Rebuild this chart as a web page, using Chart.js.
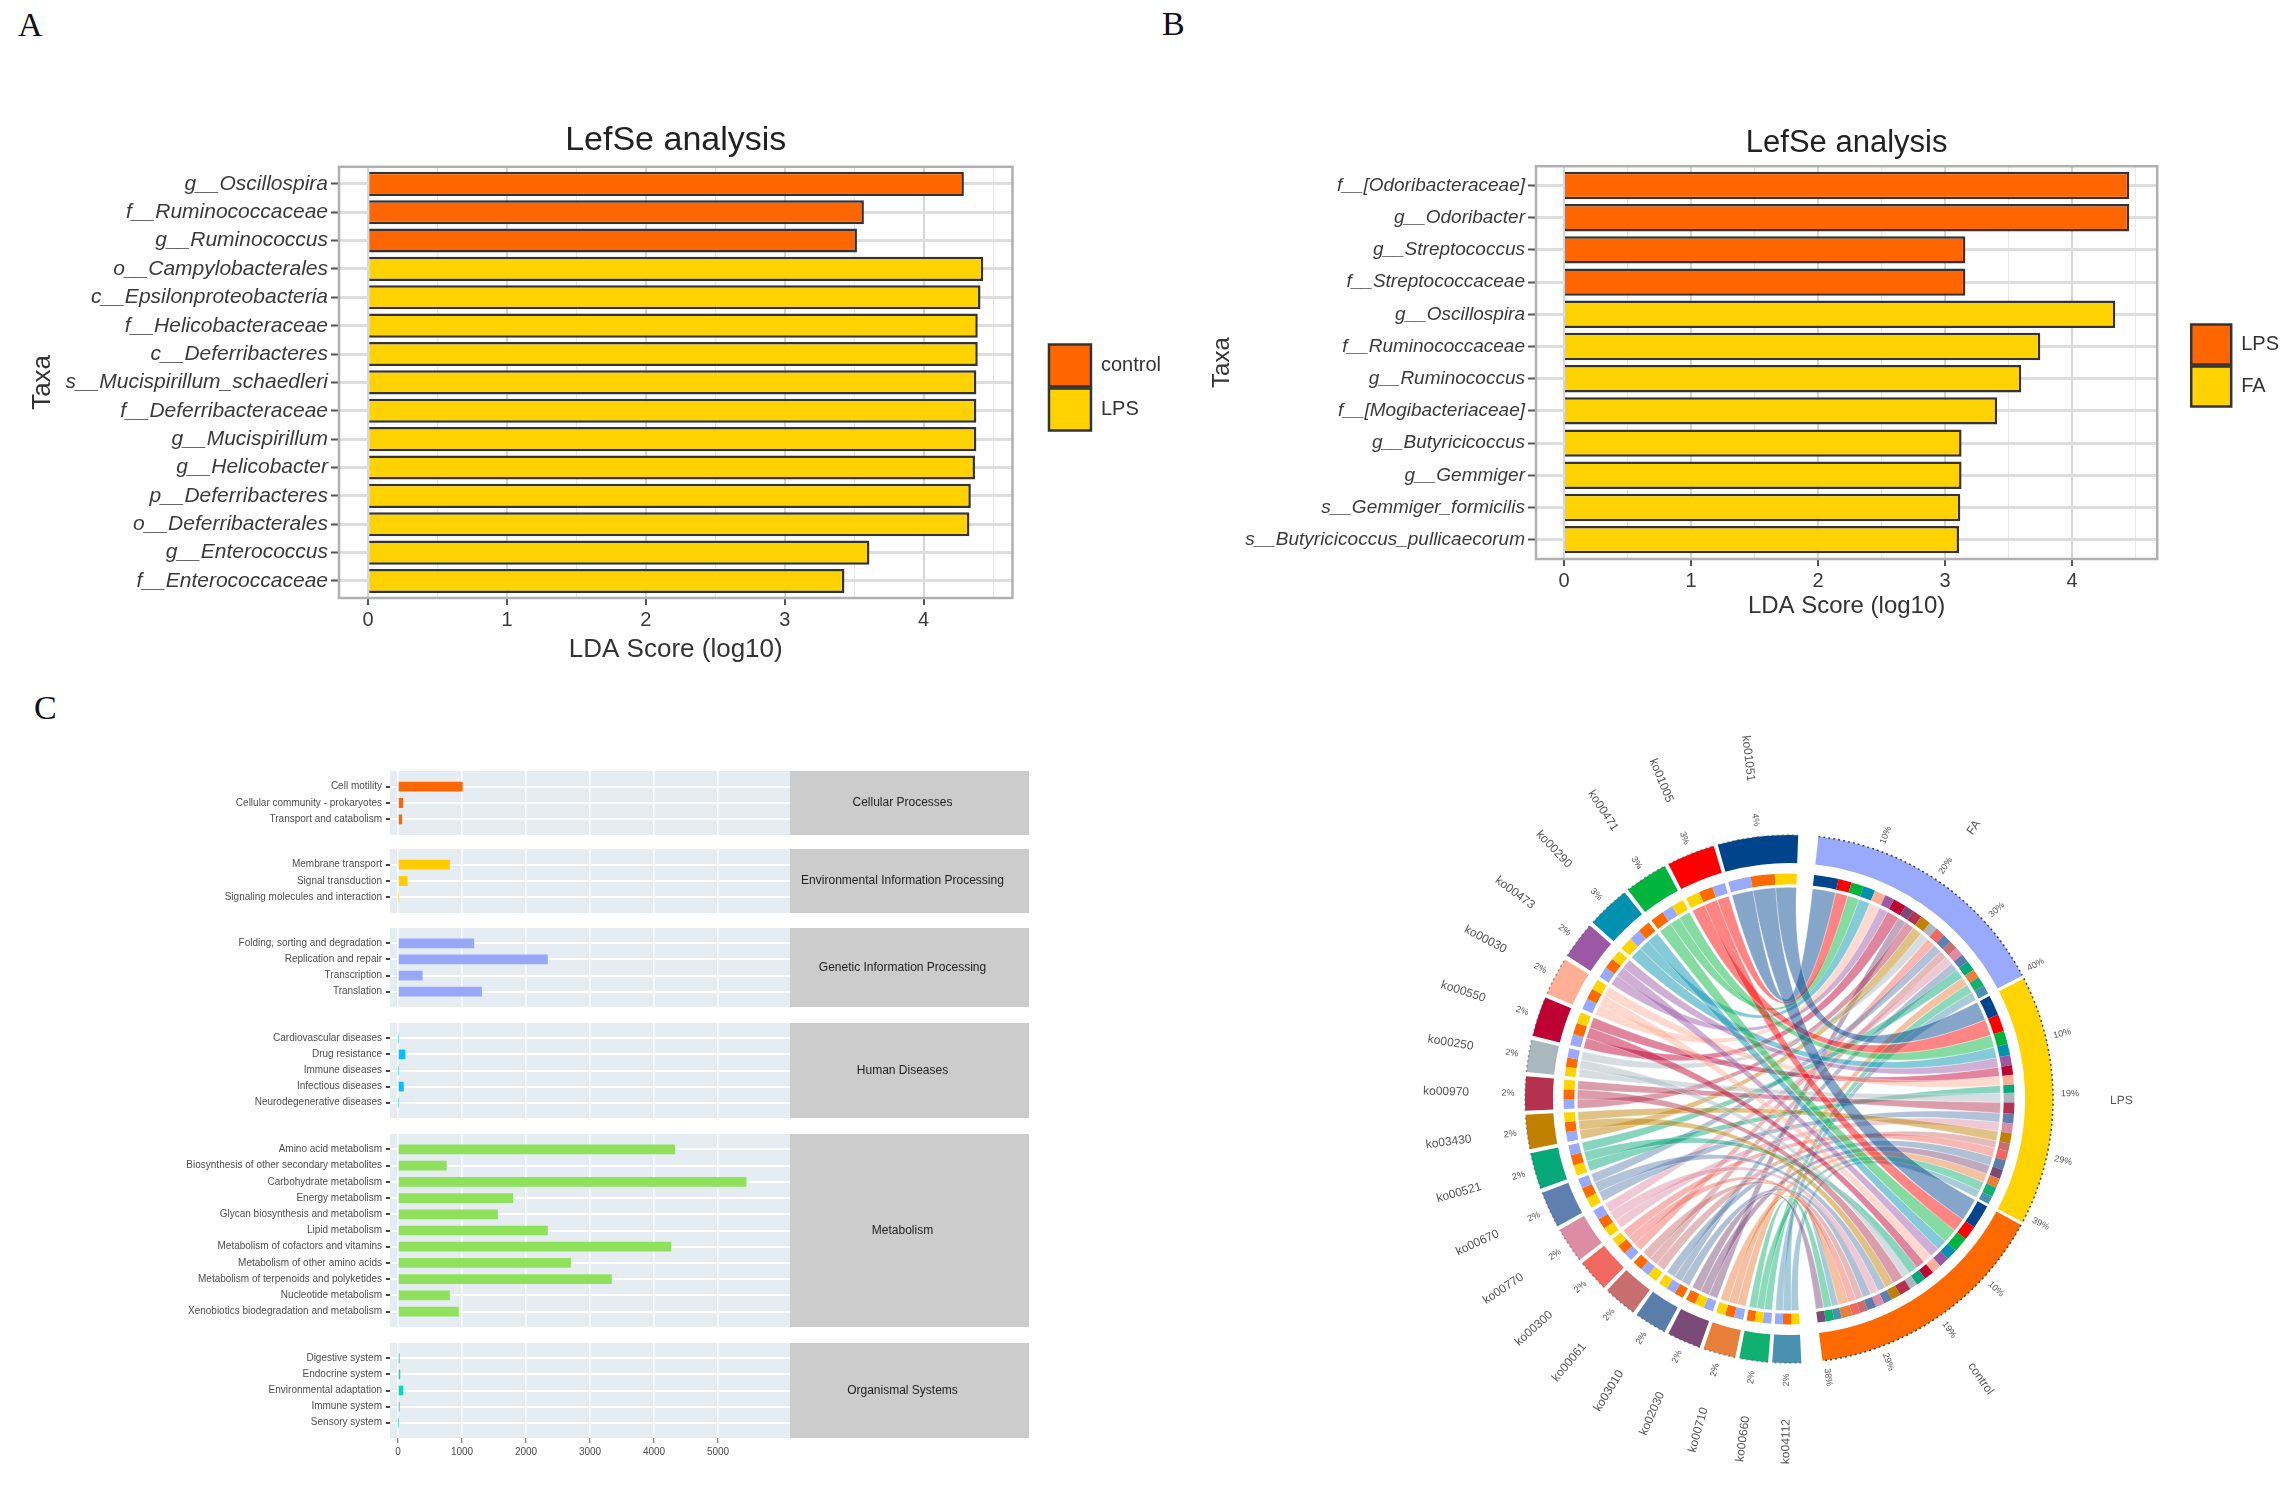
<!DOCTYPE html>
<html lang="en">
<head>
  <meta charset="UTF-8" />
  <title>LefSe analysis and KEGG pathways</title>
  <script src="https://cdn.jsdelivr.net/npm/chart.js"></script>
  <style>
    body { margin: 0; background: #fff; width: 2292px; height: 1490px; overflow: hidden; position: relative; }
    canvas { position: absolute; }
    .letter { position: absolute; font-family: "Liberation Serif", serif; font-size: 34px; color: #111; line-height: 1; }
  </style>
</head>
<body>
  <div class="letter" style="left:18px;top:8px">A</div>
  <div class="letter" style="left:1162px;top:7px">B</div>
  <div class="letter" style="left:34px;top:691px">C</div>

  <canvas id="lefseA" width="1144" height="555" style="left:27px;top:110px"></canvas>
  <canvas id="lefseB" width="1081" height="511" style="left:1208px;top:110px"></canvas>

  <canvas id="facet0" width="879" height="64" style="left:150px;top:771px"></canvas>
  <canvas id="facet1" width="879" height="64" style="left:150px;top:849px"></canvas>
  <canvas id="facet2" width="879" height="79" style="left:150px;top:928px"></canvas>
  <canvas id="facet3" width="879" height="95" style="left:150px;top:1023px"></canvas>
  <canvas id="facet4" width="879" height="193" style="left:150px;top:1134px"></canvas>
  <canvas id="facet5" width="879" height="121" style="left:150px;top:1343px"></canvas>

  <canvas id="chord" width="760" height="760" style="left:1409px;top:719px"></canvas>

  <script>
    // Panel A
    const taxaA = ['g__Oscillospira', 'f__Ruminococcaceae', 'g__Ruminococcus', 'o__Campylobacterales', 'c__Epsilonproteobacteria', 'f__Helicobacteraceae', 'c__Deferribacteres', 's__Mucispirillum_schaedleri', 'f__Deferribacteraceae', 'g__Mucispirillum', 'g__Helicobacter', 'p__Deferribacteres', 'o__Deferribacterales', 'g__Enterococcus', 'f__Enterococcaceae'];
    const controlScoresA = [4.29, 3.57, 3.52];
    const lpsScoresA = [4.43, 4.41, 4.39, 4.39, 4.38, 4.38, 4.38, 4.37, 4.34, 4.33, 3.61, 3.43];

    // Panel B
    const taxaB = ['f__[Odoribacteraceae]', 'g__Odoribacter', 'g__Streptococcus', 'f__Streptococcaceae', 'g__Oscillospira', 'f__Ruminococcaceae', 'g__Ruminococcus', 'f__[Mogibacteriaceae]', 'g__Butyricicoccus', 'g__Gemmiger', 's__Gemmiger_formicilis', 's__Butyricicoccus_pullicaecorum'];
    const lpsScoresB = [4.45, 4.45, 3.16, 3.16];
    const faScoresB = [4.34, 3.75, 3.60, 3.41, 3.13, 3.13, 3.12, 3.11];

    // Panel C, one pair of arrays per facet
    const countTicks = [0, 1000, 2000, 3000, 4000, 5000];
    const cellularTerms = ['Cell motility', 'Cellular community - prokaryotes', 'Transport and catabolism'];
    const cellularCounts = [1010, 80, 65];
    const environmentalTerms = ['Membrane transport', 'Signal transduction', 'Signaling molecules and interaction'];
    const environmentalCounts = [810, 150, 5];
    const geneticTerms = ['Folding, sorting and degradation', 'Replication and repair', 'Transcription', 'Translation'];
    const geneticCounts = [1190, 2340, 385, 1310];
    const diseaseTerms = ['Cardiovascular diseases', 'Drug resistance', 'Immune diseases', 'Infectious diseases', 'Neurodegenerative diseases'];
    const diseaseCounts = [5, 115, 5, 90, 5];
    const metabolismTerms = ['Amino acid metabolism', 'Biosynthesis of other secondary metabolites', 'Carbohydrate metabolism', 'Energy metabolism', 'Glycan biosynthesis and metabolism', 'Lipid metabolism', 'Metabolism of cofactors and vitamins', 'Metabolism of other amino acids', 'Metabolism of terpenoids and polyketides', 'Nucleotide metabolism', 'Xenobiotics biodegradation and metabolism'];
    const metabolismCounts = [4330, 760, 5445, 1800, 1560, 2340, 4270, 2700, 3340, 810, 950];
    const organismalTerms = ['Digestive system', 'Endocrine system', 'Environmental adaptation', 'Immune system', 'Sensory system'];
    const organismalCounts = [25, 35, 80, 25, 3];

    // Chord diagram: sectors listed counter-clockwise from the top
    const koNames = ['ko01051', 'ko01005', 'ko00471', 'ko00290', 'ko00473', 'ko00030', 'ko00550', 'ko00250', 'ko00970', 'ko03430', 'ko00521', 'ko00670', 'ko00770', 'ko00300', 'ko00061', 'ko03010', 'ko02030', 'ko00710', 'ko00660', 'ko04112'];
    const koPercents = ['4%', '3%', '3%', '3%', '2%', '2%', '2%', '2%', '2%', '2%', '2%', '2%', '2%', '2%', '2%', '2%', '2%', '2%', '2%', '2%'];
    const koColors = ['#00448c', '#ff0000', '#00b43c', '#0091b0', '#9b59a5', '#ffaf96', '#be0032', '#a9b8be', '#b43250', '#c08000', '#05a878', '#5f7fb0', '#dc8ca5', '#f0685f', '#c86e6e', '#5a7daa', '#7b4a78', '#e8803c', '#0fb070', '#4a90b0'];
    // ko-side widths of each link, % of the circle
    const koFa = [1.62, .92, .80, .82, .78, .80, .80, .66, .70, .70, .72, .70, .72, .65, .66, .65, .68, .66, .60, .57];
    const koLps = [1.56, 1.02, .87, .93, .74, .75, .80, .65, .68, .68, .76, .76, .70, .64, .70, .66, .68, .66, .58, .58];
    const koControl = [1.71, 1.00, .97, .89, .76, .78, .82, .66, .70, .70, .74, .76, .75, .68, .70, .66, .70, .65, .57, .60];
    // clockwise order of the three small cells in each ko sector (F = FA, L = LPS, C = control)
    const koCellOrder = ['FCL', 'LCF', 'CFL', 'LFC', 'FCL', 'FCL', 'FCL', 'LCF', 'FCL', 'FCL', 'LCF', 'LCF', 'LCF', 'FCL', 'LFC', 'CFL', 'FLC', 'FCL', 'FLC', 'LCF'];

    const groupNames = ['FA', 'LPS', 'control'];
    const groupColors = ['#99a9fb', '#ffd400', '#ff6a00'];
    const groupFullPercent = [40.5, 40, 38.5];
    const faTicks = [10, 20, 30, 40];
    const lpsTicks = [10, 19, 29, 39];
    const controlTicks = [10, 19, 29, 38];
    // group-side cells, clockwise: which ko each one belongs to and how wide it is
    const faOrder = [0, 1, 2, 3, 5, 4, 6, 16, 8, 9, 7, 13, 11, 14, 12, 15, 10, 17, 18, 19];
    const faFlows = [1.75, .94, .89, .86, .81, .67, .94, .64, .69, .75, .61, .69, .67, .61, .61, .61, .72, .64, .69, .64];
    const lpsOrder = [0, 1, 2, 3, 4, 6, 5, 10, 7, 8, 11, 12, 9, 14, 13, 15, 16, 17, 18, 19];
    const lpsFlows = [1.44, 1.22, .94, .81, .72, .69, .69, .58, .69, .81, .69, .69, .72, .56, .67, .69, .67, .67, .69, .58];
    const controlOrder = [0, 1, 2, 3, 4, 5, 6, 10, 7, 8, 9, 11, 12, 15, 14, 13, 17, 19, 18, 16];
    const controlFlows = [1.72, 1.03, 1.08, .81, .72, .69, .69, .72, .56, .83, .67, .61, .61, .64, .56, .58, .78, .53, .61, .58];

    Chart.defaults.font.family = '"Liberation Sans", Arial, sans-serif';
    Chart.defaults.animation = false;
    Chart.defaults.responsive = false;

    const panelBorder = {
      id: 'panelBorder',
      afterDraw(chart) {
        const { ctx, chartArea: a } = chart;
        ctx.save();
        ctx.strokeStyle = '#b0b0b0';
        ctx.lineWidth = 2.5;
        ctx.strokeRect(a.left, a.top, a.width, a.height);
        ctx.restore();
      }
    };

    function lefseChart(id, o) {
      const first = o.firstScores, second = o.secondScores;
      return new Chart(document.getElementById(id), {
        type: 'bar',
        data: {
          datasets: [
            { label: o.firstName, data: first.map((v, i) => ({ x: v, y: i })), backgroundColor: '#ff6600' },
            { label: o.secondName, data: second.map((v, i) => ({ x: v, y: i + first.length })), backgroundColor: '#ffd200' }
          ].map(d => Object.assign(d, { borderColor: '#333', borderWidth: 2.5, barPercentage: 1, categoryPercentage: 0.85 }))
        },
        options: {
          indexAxis: 'y',
          layout: { padding: 0 },
          scales: {
            x: {
              stacked: true, min: o.xMin, max: o.xMax,
              grid: {
                color: c => c.tick.value % 1 ? '#e8e8e8' : '#d6d6d6',
                lineWidth: c => c.tick.value % 1 ? 1 : 2,
                tickColor: c => c.tick.value % 1 ? 'rgba(0,0,0,0)' : '#555',
                tickLength: 7, tickWidth: 2
              },
              border: { display: false },
              ticks: {
                stepSize: 0.5, includeBounds: false, autoSkip: false, maxRotation: 0, padding: 3,
                color: '#3a3a3a', font: { size: 20 },
                callback: v => v % 1 ? '' : String(v)
              },
              title: { display: true, text: 'LDA Score (log10)', color: '#333', font: { size: o.axisTitleSize }, padding: 0 },
              afterFit: s => { s.height = o.axisHeight; }
            },
            y: {
              type: 'linear', offset: false,
              stacked: true, reverse: true, min: -0.6, max: o.taxa.length - 0.4,
              grid: { offset: false, color: '#dedede', lineWidth: 3, tickColor: '#555', tickLength: 8, tickWidth: 2 },
              border: { display: false },
              ticks: {
                stepSize: 1, includeBounds: false, autoSkip: false, maxRotation: 0, padding: 3,
                color: '#3a3a3a', font: { size: o.taxaSize, style: 'italic' },
                callback: v => o.taxa[v]
              },
              title: { display: true, text: 'Taxa', color: '#333', font: { size: o.axisTitleSize }, padding: 0 },
              afterFit: s => { s.width = o.axisWidth; s.paddingTop = 0; s.paddingBottom = 0; }
            },
            // empty axis, only keeps the legend away from the panel
            gap: {
              type: 'linear', position: 'right', display: true,
              grid: { display: false }, border: { display: false }, ticks: { display: false },
              afterFit: s => { s.width = o.legendGap; }
            }
          },
          plugins: {
            title: { display: true, text: 'LefSe analysis', color: '#222', fullSize: false, font: { size: o.titleSize, weight: 'normal' }, padding: o.titlePadding },
            legend: {
              position: 'right',
              labels: { boxWidth: o.legendBox, boxHeight: o.legendBox, padding: 2, color: '#333', font: { size: 20 } }
            },
            tooltip: { enabled: false }
          }
        },
        plugins: [panelBorder]
      });
    }

    lefseChart('lefseA', {
      taxa: taxaA, firstName: 'control', secondName: 'LPS', firstScores: controlScoresA, secondScores: lpsScoresA,
      xMin: -0.21, xMax: 4.64, axisWidth: 312, axisHeight: 67, legendGap: 34.5, legendBox: 42,
      taxaSize: 21, titleSize: 34, axisTitleSize: 26, titlePadding: { top: 10, bottom: 6 }
    });
    lefseChart('lefseB', {
      taxa: taxaB, firstName: 'LPS', secondName: 'FA', firstScores: lpsScoresB, secondScores: faScoresB,
      xMin: -0.22, xMax: 4.67, axisWidth: 328, axisHeight: 62, legendGap: 32, legendBox: 40,
      taxaSize: 19, titleSize: 31, axisTitleSize: 24, titlePadding: { top: 15, bottom: 4 }
    });

    const facetStrip = {
      id: 'facetStrip',
      beforeDraw(chart, args, opts) {
        const { ctx, chartArea: a, width } = chart;
        ctx.save();
        ctx.fillStyle = '#e6edf2';
        ctx.fillRect(a.left, a.top, a.width, a.height);
        ctx.fillStyle = '#cccccc';
        ctx.fillRect(a.right, a.top, width - a.right, a.height);
        ctx.fillStyle = '#222';
        ctx.font = '12px "Liberation Sans"';
        ctx.textAlign = 'center';
        ctx.textBaseline = 'middle';
        ctx.fillText(opts.text, (a.right + width) / 2 - 7, (a.top + a.bottom) / 2);
        ctx.restore();
      }
    };

    function facetChart(id, strip, terms, counts, color, showAxis) {
      return new Chart(document.getElementById(id), {
        type: 'bar',
        data: {
          datasets: [{
            data: counts.map((v, i) => ({ x: v, y: i })),
            backgroundColor: color, borderWidth: 0, barPercentage: 0.6, categoryPercentage: 1
          }]
        },
        options: {
          indexAxis: 'y',
          layout: { padding: { right: 239 } },
          scales: {
            x: {
              min: -125, max: 6125,
              afterBuildTicks: s => { s.ticks = countTicks.map(value => ({ value })); },
              grid: { color: '#fff', lineWidth: 1.5, drawTicks: showAxis, tickColor: '#555', tickLength: 5, tickWidth: 1 },
              border: { display: false },
              ticks: { display: showAxis, autoSkip: false, maxRotation: 0, padding: 3, color: '#4d4d4d', font: { size: 10 }, callback: v => String(v) },
              afterFit: s => { s.height = showAxis ? 26 : 0; s.paddingLeft = 0; s.paddingRight = 0; }
            },
            y: {
              type: 'linear', offset: false,
              reverse: true, min: -0.95, max: terms.length - 0.05,
              grid: { offset: false, color: '#fff', lineWidth: 2, tickColor: '#444', tickLength: 4, tickWidth: 2 },
              border: { display: false },
              ticks: {
                stepSize: 1, includeBounds: false, autoSkip: false, maxRotation: 0, padding: 4,
                color: '#4d4d4d', font: { size: 10 }, callback: v => terms[v]
              },
              afterFit: s => { s.width = 240; s.paddingTop = 0; s.paddingBottom = 0; }
            }
          },
          plugins: { legend: { display: false }, tooltip: { enabled: false }, facetStrip: { text: strip } }
        },
        plugins: [facetStrip]
      });
    }

    facetChart('facet0', 'Cellular Processes', cellularTerms, cellularCounts, '#ff6600', false);
    facetChart('facet1', 'Environmental Information Processing', environmentalTerms, environmentalCounts, '#ffcc00', false);
    facetChart('facet2', 'Genetic Information Processing', geneticTerms, geneticCounts, '#97a8fa', false);
    facetChart('facet3', 'Human Diseases', diseaseTerms, diseaseCounts, '#00bfff', false);
    facetChart('facet4', 'Metabolism', metabolismTerms, metabolismCounts, '#8fe05b', false);
    facetChart('facet5', 'Organismal Systems', organismalTerms, organismalCounts, '#00d8c0', true);

    // Build the two rings of the chord from the arrays. Gaps are empty slices.
    const GAP_KO = 0.25, GAP_GROUP = 0.2, GAP_BOTTOM = 1.28, GAP_TOP = 1.22;
    const NONE = 'rgba(0,0,0,0)';
    const outerData = [], outerColors = [], innerData = [], innerColors = [];
    const groupOuter = [], koOuter = [];
    const groupCell = [{}, {}, {}], koCell = koNames.map(() => ({}));
    const pushGap = v => {
      outerData.push(v); outerColors.push(NONE);
      innerData.push(v); innerColors.push(NONE);
    };
    [[faOrder, faFlows], [lpsOrder, lpsFlows], [controlOrder, controlFlows]].forEach(([order, flows], g) => {
      groupOuter[g] = outerData.length;
      outerData.push(flows.reduce((a, b) => a + b, 0));
      outerColors.push(groupColors[g]);
      flows.forEach((f, i) => {
        groupCell[g][order[i]] = innerData.length;
        innerData.push(f);
        innerColors.push(koColors[order[i]]);
      });
      pushGap(g < 2 ? GAP_GROUP : GAP_BOTTOM);
    });
    for (let k = koNames.length - 1; k >= 0; k--) {
      const parts = { F: [koFa[k], 0], L: [koLps[k], 1], C: [koControl[k], 2] };
      koOuter[k] = outerData.length;
      outerData.push(koFa[k] + koLps[k] + koControl[k]);
      outerColors.push(koColors[k]);
      for (const letter of koCellOrder[k]) {
        koCell[k][parts[letter][1]] = innerData.length;
        innerData.push(parts[letter][0]);
        innerColors.push(groupColors[parts[letter][1]]);
      }
      pushGap(k > 0 ? GAP_KO : GAP_TOP);
    }

    function hexAlpha(hex, a) {
      const n = parseInt(hex.slice(1), 16);
      return `rgba(${n >> 16},${(n >> 8) & 255},${n & 255},${a})`;
    }

    const chordDecor = {
      id: 'chordDecor',
      afterDatasetsDraw(chart) {
        const { ctx } = chart;
        const outer = chart.getDatasetMeta(0).data;
        const inner = chart.getDatasetMeta(2).data;
        const cx = outer[0].x, cy = outer[0].y;
        const R = outer[0].outerRadius;
        const rib = inner[0].innerRadius - 3;
        const pt = (ang, r) => [cx + r * Math.cos(ang), cy + r * Math.sin(ang)];

        // ribbons
        ctx.save();
        for (let k = koNames.length - 1; k >= 0; k--) {
          for (let g = 0; g < 3; g++) {
            const a = inner[koCell[k][g]], b = inner[groupCell[g][k]];
            const bend = rib * 0.3;
            ctx.beginPath();
            ctx.arc(cx, cy, rib, a.startAngle, a.endAngle);
            ctx.bezierCurveTo(...pt(a.endAngle, bend), ...pt(b.startAngle, bend), ...pt(b.startAngle, rib));
            ctx.arc(cx, cy, rib, b.startAngle, b.endAngle);
            ctx.bezierCurveTo(...pt(b.endAngle, bend), ...pt(a.startAngle, bend), ...pt(a.startAngle, rib));
            ctx.closePath();
            ctx.fillStyle = hexAlpha(koColors[k], 0.48);
            ctx.fill();
            ctx.strokeStyle = 'rgba(255,255,255,0.55)';
            ctx.lineWidth = 0.6;
            ctx.stroke();
          }
        }
        ctx.restore();

        // dotted rim of the outer ring
        ctx.save();
        ctx.lineWidth = 1.5;
        ctx.setLineDash([2, 3]);
        groupOuter.forEach(i => {
          ctx.strokeStyle = '#444';
          ctx.beginPath();
          ctx.arc(cx, cy, R, outer[i].startAngle, outer[i].endAngle);
          ctx.stroke();
        });
        koOuter.forEach(i => {
          ctx.strokeStyle = 'rgba(70,70,70,0.5)';
          ctx.beginPath();
          ctx.arc(cx, cy, R, outer[i].startAngle, outer[i].endAngle);
          ctx.stroke();
        });
        ctx.restore();

        // radial text
        const radial = (text, ang, r, size, align, turn) => {
          const [x, y] = pt(ang, r);
          ctx.save();
          ctx.translate(x, y);
          ctx.rotate(ang + turn);
          ctx.font = size + 'px "Liberation Sans"';
          ctx.fillStyle = '#555';
          ctx.textAlign = align;
          ctx.textBaseline = 'middle';
          ctx.fillText(text, 0, 0);
          ctx.restore();
        };
        koNames.forEach((name, k) => {
          const arc = outer[koOuter[k]];
          const mid = (arc.startAngle + arc.endAngle) / 2;
          radial(name, mid, R + 56, 12, 'right', Math.PI);
          radial(koPercents[k], mid, R + 17, 9, 'center', Math.PI);
        });
        [faTicks, lpsTicks, controlTicks].forEach((ticks, g) => {
          const arc = outer[groupOuter[g]];
          const span = arc.endAngle - arc.startAngle;
          ticks.forEach(t => {
            radial(t + '%', arc.startAngle + span * t / groupFullPercent[g], R + 17, 9, 'center', 0);
          });
          radial(groupNames[g], (arc.startAngle + arc.endAngle) / 2, R + 57, 12, 'left', 0);
        });
      }
    };

    new Chart(document.getElementById('chord'), {
      type: 'doughnut',
      data: {
        labels: outerData.map((_, i) => i),
        datasets: [
          { data: outerData, backgroundColor: outerColors, borderWidth: 0, weight: 28 },
          { data: [1], backgroundColor: NONE, borderWidth: 0, weight: 10.6 },
          { data: innerData, backgroundColor: innerColors, borderWidth: 0, weight: 10.8 }
        ]
      },
      options: {
        radius: 264,
        cutout: '81.3%',
        rotation: 6.4,
        layout: { padding: 0 },
        plugins: { legend: { display: false }, tooltip: { enabled: false } }
      },
      plugins: [chordDecor]
    });
  </script>
</body>
</html>
